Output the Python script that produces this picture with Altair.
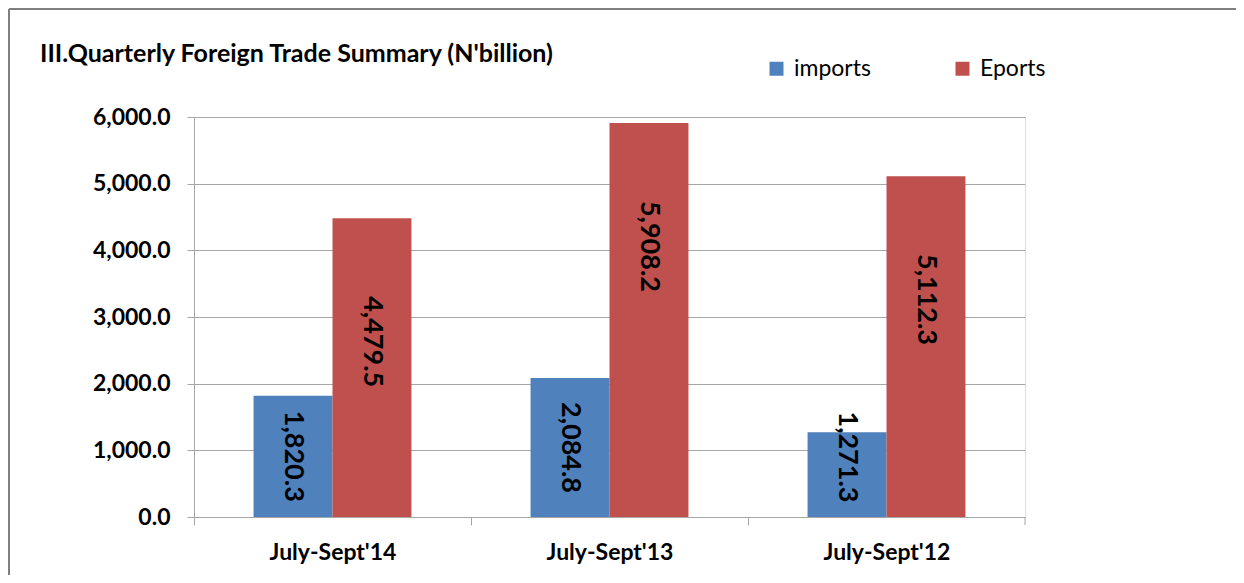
import altair as alt
import pandas as pd

# ---- data ----
periods = ["July-Sept'14", "July-Sept'13", "July-Sept'12"]
imports_vals = [1820.3, 2084.8, 1271.3]
exports_vals = [4479.5, 5908.2, 5112.3]
series_names = ["imports", "Eports"]
series_colors = ["#4F81BD", "#C0504D"]
y_ticks = [0, 1000, 2000, 3000, 4000, 5000, 6000]
title_text = "III.Quarterly Foreign Trade Summary (N'billion)"

rows = []
for p, i, e in zip(periods, imports_vals, exports_vals):
    rows.append({"period": p, "series": series_names[0], "value": i})
    rows.append({"period": p, "series": series_names[1], "value": e})
df = pd.DataFrame(rows)

# ---- layout ----
W, H = 831, 400
PAD_L, PAD_T = 186, 109
PAD_R = 1228 - PAD_L - W
PAD_B = 567 - PAD_T - H
FONT = "Lato"
GRID = "#A6A6A6"
band_pad = 0.43
step = W / len(periods)
shift = step * band_pad / 2

x_enc = alt.X(
    "period:N",
    sort=periods,
    title=None,
    scale=alt.Scale(paddingInner=band_pad, paddingOuter=band_pad / 2),
    axis=alt.Axis(
        bandPosition=0,
        tickOffset=-shift,
        labelOffset=shift,
        labelAngle=0,
        labelFont=FONT,
        labelFontSize=23,
        labelFontWeight="bold",
        labelColor="black",
        labelPadding=16,
        tickSize=8,
        tickColor=GRID,
        domainColor=GRID,
        grid=False,
    ),
)

y_enc = alt.Y(
    "value:Q",
    title=None,
    scale=alt.Scale(domain=[0, 6000], nice=False),
    axis=alt.Axis(
        values=y_ticks,
        format=",.1f",
        labelFont=FONT,
        labelFontSize=23,
        labelFontWeight="bold",
        labelColor="black",
        labelPadding=17,
        tickSize=7,
        tickColor=GRID,
        domainColor=GRID,
        gridColor=GRID,
        grid=True,
    ),
)

color_enc = alt.Color(
    "series:N",
    scale=alt.Scale(domain=series_names, range=series_colors),
    legend=alt.Legend(
        title=None,
        orient="none",
        legendX=571,
        legendY=-60,
        direction="horizontal",
        symbolType="square",
        symbolSize=196,
        symbolStrokeWidth=0,
        labelFont=FONT,
        labelFontSize=23,
        labelColor="black",
        labelOffset=6,
        columnPadding=80,
    ),
)

xoff = alt.XOffset("series:N", scale=alt.Scale(domain=series_names))

base = alt.Chart(df)

bars = base.mark_bar().encode(x=x_enc, y=y_enc, xOffset=xoff, color=color_enc)

labels = base.transform_calculate(
    lab="max(datum.value - 1850, datum.value / 2, 900)"
).mark_text(
    angle=90, align="center", baseline="middle",
    font=FONT, fontSize=27, fontWeight="bold", color="black",
).encode(
    x=alt.X("period:N", sort=periods),
    xOffset=xoff,
    y=alt.Y("lab:Q"),
    text=alt.Text("value:Q", format=",.1f"),
)

deco = alt.Chart(pd.DataFrame({"k": [0]}))
left_border = deco.mark_rule(color="#7F7F7F", strokeWidth=2).encode(
    x=alt.value(-PAD_L + 1), y=alt.value(-PAD_T + 1), y2=alt.value(H + PAD_B)
)
top_border = deco.mark_rule(color="#7F7F7F", strokeWidth=2).encode(
    x=alt.value(-PAD_L + 1), x2=alt.value(W + PAD_R), y=alt.value(-PAD_T + 1)
)
last_tick = deco.mark_rule(color=GRID).encode(
    x=alt.value(W), y=alt.value(H), y2=alt.value(H + 8)
)

chart = alt.layer(bars, labels, left_border, top_border, last_tick).properties(
    width=W,
    height=H,
    autosize=alt.AutoSizeParams(type="none"),
    padding={"left": PAD_L, "top": PAD_T, "right": PAD_R, "bottom": PAD_B},
    title=alt.TitleParams(
        text=title_text,
        anchor="start",
        frame="group",
        dx=-154,
        dy=59,
        offset=0,
        font=FONT,
        fontSize=25,
        fontWeight="bold",
        color="black",
    ),
).configure_view(stroke=None).configure(background="white")

chart.save("out.html", embed_options={"renderer": "svg", "actions": False})
